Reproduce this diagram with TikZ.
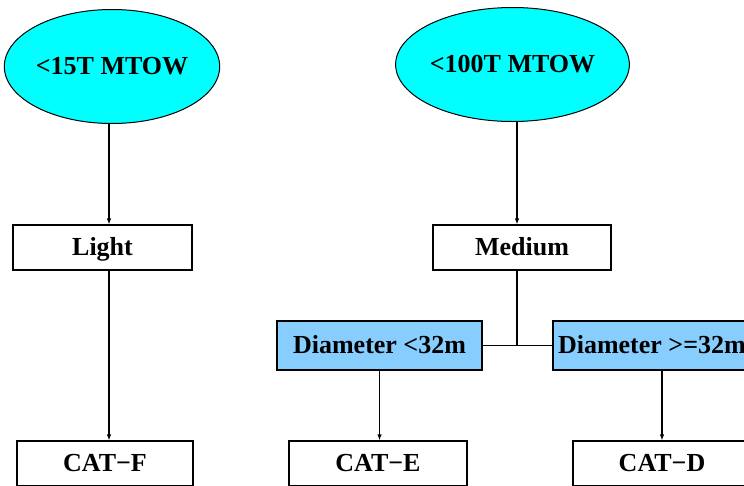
\documentclass[tikz,border=0pt]{standalone}
\usepackage{fontspec}
\setmainfont{Liberation Serif}
\usetikzlibrary{shapes.geometric, arrows.meta}
\definecolor{ltblue}{HTML}{87CEFF}
\definecolor{aqua}{HTML}{00FFFF}

\begin{document}
\begin{tikzpicture}[x = 1pt, y = -1pt,
	every node/.style = {font = \fontsize{26}{30}\selectfont\bfseries, inner sep = 0pt, text height = 20pt, text depth = 5pt},
	weight/.style = {draw, ellipse, fill = aqua, line width = 1pt, minimum width = 210pt, minimum height = 114pt},
	class/.style = {draw, rectangle, line width = 1.2pt, minimum width = 178pt, minimum height = 45pt},
	span/.style = {draw, rectangle, fill = ltblue, line width = 1.2pt, minimum width = 205pt, minimum height = 49pt},
	link/.style = {line width = 1.5pt},
	arr/.style = {link, -{Latex[length = 6pt, width = 4.5pt]}}]
	\useasboundingbox (0, 0) rectangle (744, 485);
	\clip (0, 0) rectangle (744, 485);

	\node[weight] (w15) at (112, 66.5){<15T MTOW};
	\node[weight] (w100) at (512.5, 64.5){<100T MTOW};

	\node[class, minimum width = 179pt] (light) at (102.5, 247.5){Light};
	\node[class] (medium) at (522, 247.5){Medium};

	\node[span] (small) at (379.5, 345.5){Diameter <32m};
	\node[span, text width = 195pt, align = flush left, inner xsep = 5pt] (large) at (655.5, 345.5){Diameter >=32m};

	\node[class, minimum width = 176pt] (catf) at (105, 463.5){CAT−F};
	\node[class] (cate) at (378, 463.5){CAT−E};
	\node[class] (catd) at (662, 463.5){CAT−D};

	\draw[arr] ([xshift = -3pt] w15.south) -- ([xshift = 6.5pt] light.north);
	\draw[arr] ([xshift = 6.5pt] light.south) -- ([xshift = 4pt] catf.north);

	\draw[arr] ([xshift = 4.5pt] w100.south) -- ([xshift = -5pt] medium.north);
	\draw[link] ([xshift = -5pt] medium.south) |- (small.east);
	\draw[link] (small.east) -- (large.west);

	\draw[arr] (small.south) -- ([xshift = 1.5pt] cate.north);
	\draw[arr] ([xshift = 6.5pt] large.south) -- (catd.north);
\end{tikzpicture}
\end{document}
